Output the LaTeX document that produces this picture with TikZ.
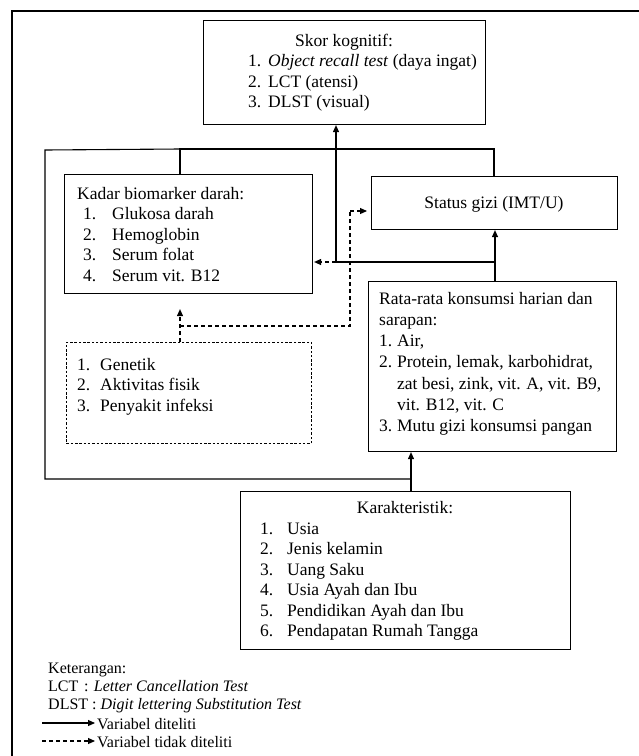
\documentclass[tikz,border=0pt]{standalone}
\usepackage{fontspec}
\setmainfont{Liberation Serif}
\usetikzlibrary{arrows.meta,calc}
\newcommand{\itm}[3]{\makebox[#1][l]{#2}#3}
\begin{document}
\begin{tikzpicture}[x=1pt,y=-1pt,
  box/.style={draw,line width=1.1pt,inner sep=0pt,anchor=north west},
  dbox/.style={draw,line width=0.9pt,dash pattern=on 2.5pt off 1.8pt,inner sep=0pt,anchor=north west},
  txt/.style={inner sep=0pt,anchor=base west,font=\fontsize{17.5}{20.5}\selectfont},
  ltxt/.style={inner sep=0pt,anchor=base west,font=\fontsize{16}{18}\selectfont},
  conn/.style={line width=1.1pt},
  arr/.style={line width=1.1pt,-{Triangle[length=7pt,width=6pt]}},
  darr/.style={line width=1.1pt,dash pattern=on 4pt off 3pt,-{Triangle[length=7pt,width=6pt]}},
  dline/.style={line width=1.1pt,dash pattern=on 4pt off 3pt}]
\useasboundingbox (0,0) rectangle (639,756);
\fill[white] (0,0) rectangle (639,756);
% outer frame
\draw[line width=1.1pt] (12,756) -- (12,11) -- (639,11);
% boxes
\node[box,minimum width=282pt,minimum height=104pt] (skor) at (203,20) {};
\node[box,minimum width=248pt,minimum height=119pt] (kadar) at (64,174) {};
\node[box,minimum width=246pt,minimum height=53pt] (status) at (371,176) {};
\node[box,minimum width=248pt,minimum height=170pt] (kons) at (368,281) {};
\node[dbox,minimum width=245pt,minimum height=101pt] (dfac) at (66,342) {};
\node[box,minimum width=330pt,minimum height=158pt] (kar) at (240,491) {};
% texts
\node[txt,anchor=base] (skorh) at (344,46) {Skor kognitif:};
\node[txt] (skorl) at (248,66.5) {\parbox[t]{230pt}{%
\itm{20pt}{1.}{\textit{Object recall test} (daya ingat)}\\
\itm{20pt}{2.}{LCT (atensi)}\\
\itm{20pt}{3.}{DLST (visual)}}};
\node[txt] (kadart) at (77,199) {\parbox[t]{230pt}{%
Kadar biomarker darah:\\
\hspace*{6pt}\itm{29pt}{1.}{Glukosa darah}\\
\hspace*{6pt}\itm{29pt}{2.}{Hemoglobin}\\
\hspace*{6pt}\itm{29pt}{3.}{Serum folat}\\
\hspace*{6pt}\itm{29pt}{4.}{Serum vit. B12}}};
\node[txt,anchor=base] (statust) at (494,208) {Status gizi (IMT/U)};
\node[txt] (konst) at (379,304) {\parbox[t]{235pt}{\fontsize{17.5}{21.3}\selectfont
Rata-rata konsumsi harian dan\\
sarapan:\\
\itm{18pt}{1.}{Air,}\\
\itm{18pt}{2.}{Protein, lemak, karbohidrat,}\\
\hspace*{18pt}zat besi, zink, vit. A, vit. B9,\\
\hspace*{18pt}vit. B12, vit. C\\
\itm{18pt}{3.}{Mutu gizi konsumsi pangan}}};
\node[txt] (dfact) at (77,370) {\parbox[t]{230pt}{%
\itm{23pt}{1.}{Genetik}\\
\itm{23pt}{2.}{Aktivitas fisik}\\
\itm{23pt}{3.}{Penyakit infeksi}}};
\node[txt,anchor=base] (karh) at (405,513) {Karakteristik:};
\node[txt] (karl) at (260,534) {\parbox[t]{300pt}{%
\itm{27pt}{1.}{Usia}\\
\itm{27pt}{2.}{Jenis kelamin}\\
\itm{27pt}{3.}{Uang Saku}\\
\itm{27pt}{4.}{Usia Ayah dan Ibu}\\
\itm{27pt}{5.}{Pendidikan Ayah dan Ibu}\\
\itm{27pt}{6.}{Pendapatan Rumah Tangga}}};
% legend
\node[ltxt] (leg) at (48,673) {\parbox[t]{300pt}{%
Keterangan:\\
\makebox[36pt][l]{LCT}: \textit{Letter Cancellation Test}\\
DLST : \textit{Digit lettering Substitution Test}}};
\coordinate (la1) at (42,723);
\coordinate (la2) at (95,723);
\coordinate (lb1) at (42,741);
\coordinate (lb2) at (95,741);
\draw[arr] (la1) -- (la2);
\draw[darr] (lb1) -- (lb2);
\node[ltxt] (lega) at (97,729) {Variabel diteliti};
\node[ltxt] (legb) at (97,747) {Variabel tidak diteliti};
% connectors
\coordinate (kb) at (411,479);
\coordinate (kt) at (180,149);
\coordinate (st) at (494,149);
\coordinate (sx) at (495,262);
\coordinate (kx) at (336,262);
\draw[arr] (kar.north -| kb) -- (kons.south -| kb);
\draw[conn] (kb) -- (45,479) -- (45,150) -- (kt);
\draw[conn] (kadar.north -| kt) -- (kt) -- (st) -- (status.north -| st);
\draw[arr] (kons.north -| sx) -- (status.south -| sx);
\draw[conn] (sx) -- (kx);
\draw[arr] (kx) -- (skor.south -| kx);
% dashed connectors
\coordinate (d1) at (180,326);
\coordinate (d2) at (350,326);
\coordinate (d3) at (350,211);
\coordinate (d4) at (350,262);
\draw[darr] (dfac.north -| d1) -- ($(kadar.south -| d1)+(0,15)$);
\draw[dline] (d1) -- (d2) -- (d3);
\draw[darr] (d3) -- ($(status.west |- d3)+(-4,0)$);
\draw[darr] (d4) -- ($(kadar.east |- d4)+(1,0)$);
\end{tikzpicture}
\end{document}
